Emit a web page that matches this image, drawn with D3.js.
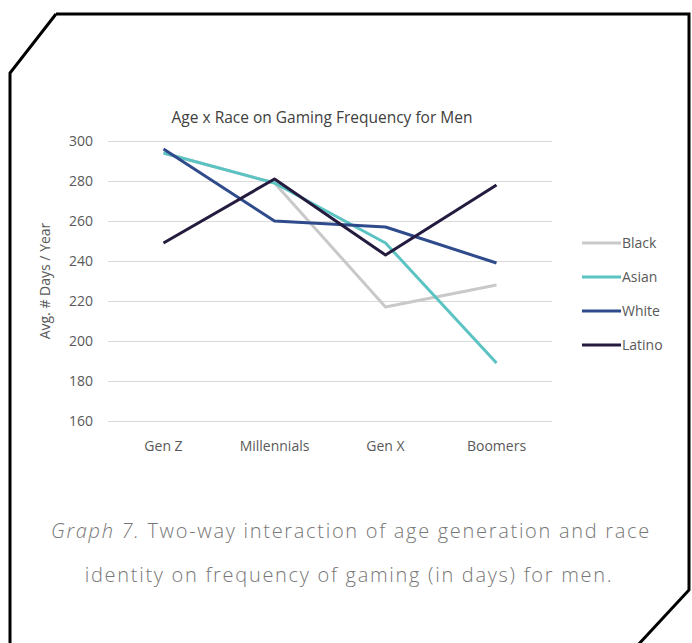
<!DOCTYPE html>
<html>
<head>
<meta charset="utf-8">
<script src="https://cdn.jsdelivr.net/npm/d3@7"></script>
<style>
  body { margin: 0; background: #fff; }
  svg { display: block; }
</style>
</head>
<body>
<div class="graph"></div>
<script>
// data
var generations = ["Gen Z", "Millennials", "Gen X", "Boomers"];
var races = ["Black", "Asian", "White", "Latino"];
var black = [294, 279, 217, 228];
var asian = [294, 279, 249, 189];
var white = [296, 260, 257, 239];
var latino = [249, 281, 243, 278];
var yTicks = [160, 180, 200, 220, 240, 260, 280, 300];
var colors = ["#c9c9c9", "#5cc3c3", "#2f4b8c", "#241b3f"];

var seriesValues = [black, asian, white, latino];

var width = 692, height = 643;
var margin = { top: 141, right: 140, bottom: 222, left: 108 };
var chartFont = "Open Sans, sans-serif";

var svg = d3.select(".graph").append("svg")
    .attr("width", width)
    .attr("height", height);

// frame with the two cut corners
svg.append("path")
    .attr("d", "M56,14 L689,14 L689,590 L637,646 M10,646 L10,73 L56,14")
    .attr("fill", "none")
    .attr("stroke", "#000")
    .attr("stroke-width", 3)
    .attr("stroke-linejoin", "miter");

var x = d3.scaleBand()
    .domain(generations)
    .range([margin.left, width - margin.right]);
var y = d3.scaleLinear()
    .domain([160, 300])
    .range([height - margin.bottom, margin.top]);

// title
svg.append("text")
    .attr("x", 322)
    .attr("y", 123)
    .attr("text-anchor", "middle")
    .attr("font-family", chartFont)
    .attr("font-size", 15.5)
    .attr("fill", "#404040")
    .text("Age x Race on Gaming Frequency for Men");

// grid lines + y labels
var yAxis = svg.append("g")
    .attr("transform", `translate(${margin.left},0)`)
    .call(d3.axisLeft(y).tickValues(yTicks).tickSize(-(width - margin.right - margin.left)).tickPadding(15));
yAxis.select(".domain").remove();
yAxis.selectAll(".tick line").attr("stroke", "#d9d9d9").attr("stroke-width", 1);
yAxis.selectAll(".tick text")
    .attr("font-family", chartFont)
    .attr("font-size", 14)
    .attr("fill", "#595959");

var xAxis = svg.append("g")
    .attr("transform", `translate(0,${height - margin.bottom})`)
    .call(d3.axisBottom(x).tickSize(0).tickPadding(20));
xAxis.select(".domain").remove();
xAxis.selectAll(".tick text")
    .attr("font-family", chartFont)
    .attr("font-size", 14)
    .attr("fill", "#595959");

// y axis title
svg.append("text")
    .attr("transform", `translate(50,${(y(160) + y(300)) / 2}) rotate(-90)`)
    .attr("text-anchor", "middle")
    .attr("font-family", chartFont)
    .attr("font-size", 14)
    .attr("fill", "#595959")
    .text("Avg. # Days / Year");

// the lines
var line = d3.line()
    .x((d, i) => x(generations[i]) + x.bandwidth() / 2)
    .y(d => y(d));
svg.selectAll(".series")
    .data(seriesValues)
    .enter().append("path")
    .attr("class", "series")
    .attr("fill", "none")
    .attr("stroke", (d, i) => colors[i])
    .attr("stroke-width", 3)
    .attr("stroke-linejoin", "round")
    .attr("d", line);

// legend
var legend = svg.selectAll(".legend")
    .data(races)
    .enter().append("g")
    .attr("class", "legend")
    .attr("transform", (d, i) => `translate(582,${243 + i * 34})`);
legend.append("line")
    .attr("x1", 0).attr("x2", 39)
    .attr("stroke", (d, i) => colors[i])
    .attr("stroke-width", 3);
legend.append("text")
    .attr("x", 40)
    .attr("dy", "0.35em")
    .attr("font-family", chartFont)
    .attr("font-size", 14)
    .attr("fill", "#595959")
    .text(d => d);

// caption
var cap = svg.append("text")
    .attr("text-anchor", "middle")
    .attr("font-family", "Open Sans, sans-serif")
    .attr("font-weight", 300)
    .attr("font-size", 20)
    .attr("letter-spacing", 1.7)
    .attr("fill", "#777");
var l1 = cap.append("tspan").attr("x", 351).attr("y", 538);
l1.append("tspan").attr("font-style", "italic").text("Graph 7.");
l1.append("tspan").text(" Two-way interaction of age generation and race");
cap.append("tspan").attr("x", 349).attr("y", 582)
    .text("identity on frequency of gaming (in days) for men.");
</script>
</body>
</html>
